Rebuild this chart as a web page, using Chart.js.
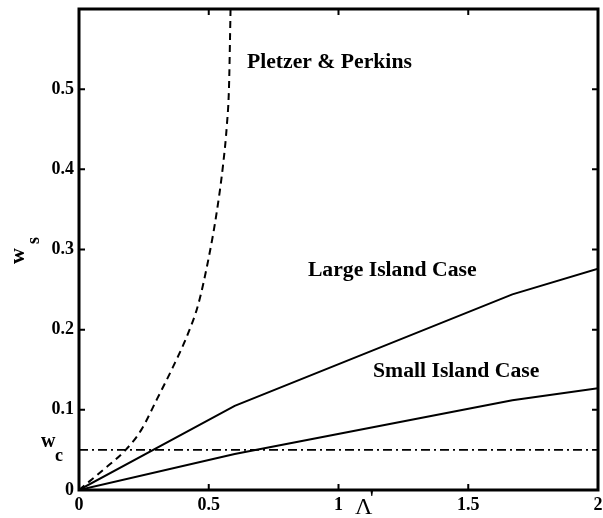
<!DOCTYPE html>
<html>
<head>
<meta charset="utf-8">
<title>Island width vs Lambda'</title>
<script src="https://cdn.jsdelivr.net/npm/chart.js@4.4.0/dist/chart.umd.min.js"></script>
<style>
  html, body { margin: 0; padding: 0; background: #fff; }
  #wrap { width: 603px; height: 518px; }
</style>
</head>
<body>
<div id="wrap"><canvas id="islandChart" width="603" height="518"></canvas></div>
<script>
// Data
const largeX = [0, 0.6, 1.67, 2];
const largeY = [0, 0.105, 0.244, 0.276];

const smallX = [0, 0.6, 1.67, 2];
const smallY = [0, 0.045, 0.112, 0.127];

const pletzerX = [0, 0.1, 0.18, 0.24, 0.3, 0.36, 0.42, 0.46, 0.5, 0.53, 0.555, 0.57, 0.578, 0.582, 0.584];
const pletzerY = [0, 0.027, 0.05, 0.075, 0.113, 0.152, 0.195, 0.232, 0.29, 0.345, 0.405, 0.456, 0.502, 0.564, 0.6];

const wcX = [0, 2];
const wcY = [0.05, 0.05];

const xTicks = [0, 0.5, 1, 1.5, 2];
const yTicks = [0, 0.1, 0.2, 0.3, 0.4, 0.5];

const FONT = '"Liberation Serif", "Times New Roman", serif';

function toPoints(xs, ys) {
  return xs.map((x, i) => ({ x: x, y: ys[i] }));
}

// Drop the label overhang padding so the layout padding decides the box
function noOverhang(scale) {
  scale.paddingTop = 0;
  scale.paddingBottom = 0;
  scale.paddingLeft = 0;
  scale.paddingRight = 0;
}

// Box, inward ticks and text labels (MATLAB style)
const framePlugin = {
  id: "frame",
  afterDraw(chart) {
    const ctx = chart.ctx;
    const area = chart.chartArea;
    const xs = chart.scales.x;
    const ys = chart.scales.y;
    const tick = 6;

    ctx.save();
    ctx.strokeStyle = "#000";
    ctx.lineWidth = 3;
    ctx.strokeRect(area.left, area.top, area.right - area.left, area.bottom - area.top);

    ctx.lineWidth = 2;
    ctx.beginPath();
    xTicks.forEach((v) => {
      const px = xs.getPixelForValue(v);
      ctx.moveTo(px, area.bottom);
      ctx.lineTo(px, area.bottom - tick);
      ctx.moveTo(px, area.top);
      ctx.lineTo(px, area.top + tick);
    });
    yTicks.forEach((v) => {
      const py = ys.getPixelForValue(v);
      ctx.moveTo(area.left, py);
      ctx.lineTo(area.left + tick, py);
      ctx.moveTo(area.right, py);
      ctx.lineTo(area.right - tick, py);
    });
    ctx.stroke();

    ctx.fillStyle = "#000";
    ctx.textBaseline = "middle";
    ctx.textAlign = "left";

    // curve labels
    ctx.font = "bold 21.7px " + FONT;
    ctx.fillText("Pletzer & Perkins", xs.getPixelForValue(0.647), ys.getPixelForValue(0.534));
    ctx.fillText("Large Island Case", xs.getPixelForValue(0.882), ys.getPixelForValue(0.274));
    ctx.fillText("Small Island Case", xs.getPixelForValue(1.133), ys.getPixelForValue(0.148));

    // w_c on the left of the axis
    const wcPy = ys.getPixelForValue(0.05);
    ctx.font = "bold 20px " + FONT;
    ctx.fillText("w", 41, wcPy - 8);
    ctx.font = "bold 18px " + FONT;
    ctx.fillText("c", 55, wcPy + 6);

    // x axis label Lambda'
    ctx.font = "24px " + FONT;
    ctx.fillText("\u039B", 355, 508);
    ctx.font = "bold 20px " + FONT;
    ctx.fillText("'", 369, 500);

    // y axis label w_s (rotated)
    ctx.translate(24, 264);
    ctx.rotate(-Math.PI / 2);
    ctx.font = "bold 22px " + FONT;
    ctx.fillText("w", 0, -6);
    ctx.font = "bold 18px " + FONT;
    ctx.fillText("s", 20, 10);
    ctx.restore();
  },
};

const solidStyle = {
  borderColor: "#000",
  borderWidth: 2,
  pointRadius: 0,
  fill: false,
  tension: 0,
};

new Chart(document.getElementById("islandChart").getContext("2d"), {
  type: "line",
  data: {
    datasets: [
      Object.assign({ label: "Large Island Case", data: toPoints(largeX, largeY) }, solidStyle),
      Object.assign({ label: "Small Island Case", data: toPoints(smallX, smallY) }, solidStyle),
      {
        label: "Pletzer & Perkins",
        data: toPoints(pletzerX, pletzerY),
        borderColor: "#000",
        borderWidth: 2,
        borderDash: [7, 5],
        pointRadius: 0,
        fill: false,
        cubicInterpolationMode: "monotone",
      },
      {
        label: "w_c",
        data: toPoints(wcX, wcY),
        borderColor: "#000",
        borderWidth: 1.6,
        borderDash: [9, 4, 2, 4],
        pointRadius: 0,
        fill: false,
      },
    ],
  },
  options: {
    responsive: false,
    animation: false,
    layout: { padding: { top: 9, right: 5, left: 0, bottom: 0 } },
    plugins: {
      legend: { display: false },
      tooltip: { enabled: false },
    },
    scales: {
      x: {
        type: "linear",
        min: 0,
        max: 2,
        grid: { display: false, drawTicks: false },
        border: { display: false },
        afterFit: (scale) => { scale.height = 28; noOverhang(scale); },
        afterBuildTicks: (scale) => { scale.ticks = xTicks.map((v) => ({ value: v })); },
        ticks: {
          color: "#000",
          padding: 5,
          maxRotation: 0,
          font: { family: FONT, size: 18, weight: "bold" },
          callback: (v) => String(v),
        },
      },
      y: {
        type: "linear",
        min: 0,
        max: 0.6,
        grid: { display: false, drawTicks: false },
        border: { display: false },
        afterFit: (scale) => { scale.width = 79; noOverhang(scale); },
        afterBuildTicks: (scale) => { scale.ticks = yTicks.map((v) => ({ value: v })); },
        ticks: {
          color: "#000",
          padding: 5,
          font: { family: FONT, size: 18, weight: "bold" },
          callback: (v) => String(Math.round(v * 10) / 10),
        },
      },
    },
  },
  plugins: [framePlugin],
});
</script>
</body>
</html>
